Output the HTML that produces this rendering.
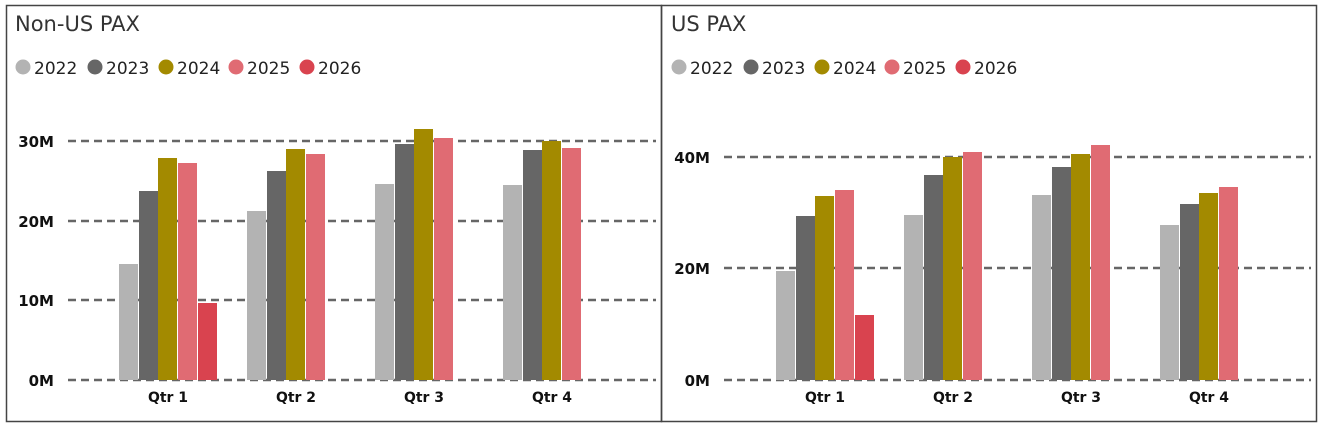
<!DOCTYPE html><html><head><style>body{margin:0;background:#fff}svg{display:block}text{font-family:"DejaVu Sans","Liberation Sans",sans-serif}</style></head><body>
<svg width="1324" height="427" viewBox="0 0 1324 427">
<rect x="6.5" y="5.5" width="655" height="416" fill="none" stroke="#444" stroke-width="1.5"/>
<rect x="661.5" y="5.5" width="655" height="416" fill="none" stroke="#444" stroke-width="1.5"/>
<g font-size="21" fill="#333"><text x="15" y="31">Non-US PAX</text><text x="671" y="31">US PAX</text></g>
<g font-size="17" fill="#222">
<circle cx="23" cy="67" r="7.5" fill="#b3b3b3"/><text x="34" y="74">2022</text>
<circle cx="95" cy="67" r="7.5" fill="#666"/><text x="106" y="74">2023</text>
<circle cx="166" cy="67" r="7.5" fill="#a38a00"/><text x="177" y="74">2024</text>
<circle cx="236" cy="67" r="7.5" fill="#e06b73"/><text x="247" y="74">2025</text>
<circle cx="307" cy="67" r="7.5" fill="#d9434f"/><text x="318" y="74">2026</text>
<circle cx="679" cy="67" r="7.5" fill="#b3b3b3"/><text x="690" y="74">2022</text>
<circle cx="751" cy="67" r="7.5" fill="#666"/><text x="762" y="74">2023</text>
<circle cx="822" cy="67" r="7.5" fill="#a38a00"/><text x="833" y="74">2024</text>
<circle cx="892" cy="67" r="7.5" fill="#e06b73"/><text x="903" y="74">2025</text>
<circle cx="963" cy="67" r="7.5" fill="#d9434f"/><text x="974" y="74">2026</text>
</g>
<g stroke="#666" stroke-width="2.5" stroke-dasharray="8 5">
<line x1="68" y1="141" x2="656" y2="141"/><line x1="68" y1="221" x2="656" y2="221"/><line x1="68" y1="300" x2="656" y2="300"/><line x1="68" y1="380" x2="656" y2="380"/>
<line x1="724" y1="157" x2="1311" y2="157"/><line x1="724" y1="268" x2="1311" y2="268"/><line x1="724" y1="380" x2="1311" y2="380"/>
</g>
<g font-size="15" font-weight="bold" fill="#111" text-anchor="end">
<text x="54" y="147">30M</text><text x="54" y="227">20M</text><text x="54" y="306">10M</text><text x="54" y="386">0M</text>
<text x="710" y="163">40M</text><text x="710" y="274">20M</text><text x="710" y="386">0M</text>
</g>
<g font-size="14" font-weight="bold" fill="#111" text-anchor="middle">
<text x="168" y="402">Qtr 1</text><text x="296" y="402">Qtr 2</text><text x="424" y="402">Qtr 3</text><text x="552" y="402">Qtr 4</text>
<text x="825" y="402">Qtr 1</text><text x="953" y="402">Qtr 2</text><text x="1081" y="402">Qtr 3</text><text x="1209" y="402">Qtr 4</text>
</g>
<g>
<rect x="119" y="264" width="19" height="116" fill="#b3b3b3"/><rect x="139" y="191" width="19" height="189" fill="#666"/><rect x="158" y="158" width="19" height="222" fill="#a38a00"/><rect x="178" y="163" width="19" height="217" fill="#e06b73"/><rect x="198" y="303" width="19" height="77" fill="#d9434f"/>
<rect x="247" y="211" width="19" height="169" fill="#b3b3b3"/><rect x="267" y="171" width="19" height="209" fill="#666"/><rect x="286" y="149" width="19" height="231" fill="#a38a00"/><rect x="306" y="154" width="19" height="226" fill="#e06b73"/>
<rect x="375" y="184" width="19" height="196" fill="#b3b3b3"/><rect x="395" y="144" width="19" height="236" fill="#666"/><rect x="414" y="129" width="19" height="251" fill="#a38a00"/><rect x="434" y="138" width="19" height="242" fill="#e06b73"/>
<rect x="503" y="185" width="19" height="195" fill="#b3b3b3"/><rect x="523" y="150" width="19" height="230" fill="#666"/><rect x="542" y="141" width="19" height="239" fill="#a38a00"/><rect x="562" y="148" width="19" height="232" fill="#e06b73"/>
<rect x="776" y="271" width="19" height="109" fill="#b3b3b3"/><rect x="796" y="216" width="19" height="164" fill="#666"/><rect x="815" y="196" width="19" height="184" fill="#a38a00"/><rect x="835" y="190" width="19" height="190" fill="#e06b73"/><rect x="855" y="315" width="19" height="65" fill="#d9434f"/>
<rect x="904" y="215" width="19" height="165" fill="#b3b3b3"/><rect x="924" y="175" width="19" height="205" fill="#666"/><rect x="943" y="157" width="19" height="223" fill="#a38a00"/><rect x="963" y="152" width="19" height="228" fill="#e06b73"/>
<rect x="1032" y="195" width="19" height="185" fill="#b3b3b3"/><rect x="1052" y="167" width="19" height="213" fill="#666"/><rect x="1071" y="154" width="19" height="226" fill="#a38a00"/><rect x="1091" y="145" width="19" height="235" fill="#e06b73"/>
<rect x="1160" y="225" width="19" height="155" fill="#b3b3b3"/><rect x="1180" y="204" width="19" height="176" fill="#666"/><rect x="1199" y="193" width="19" height="187" fill="#a38a00"/><rect x="1219" y="187" width="19" height="193" fill="#e06b73"/>
</g>
</svg></body></html>
